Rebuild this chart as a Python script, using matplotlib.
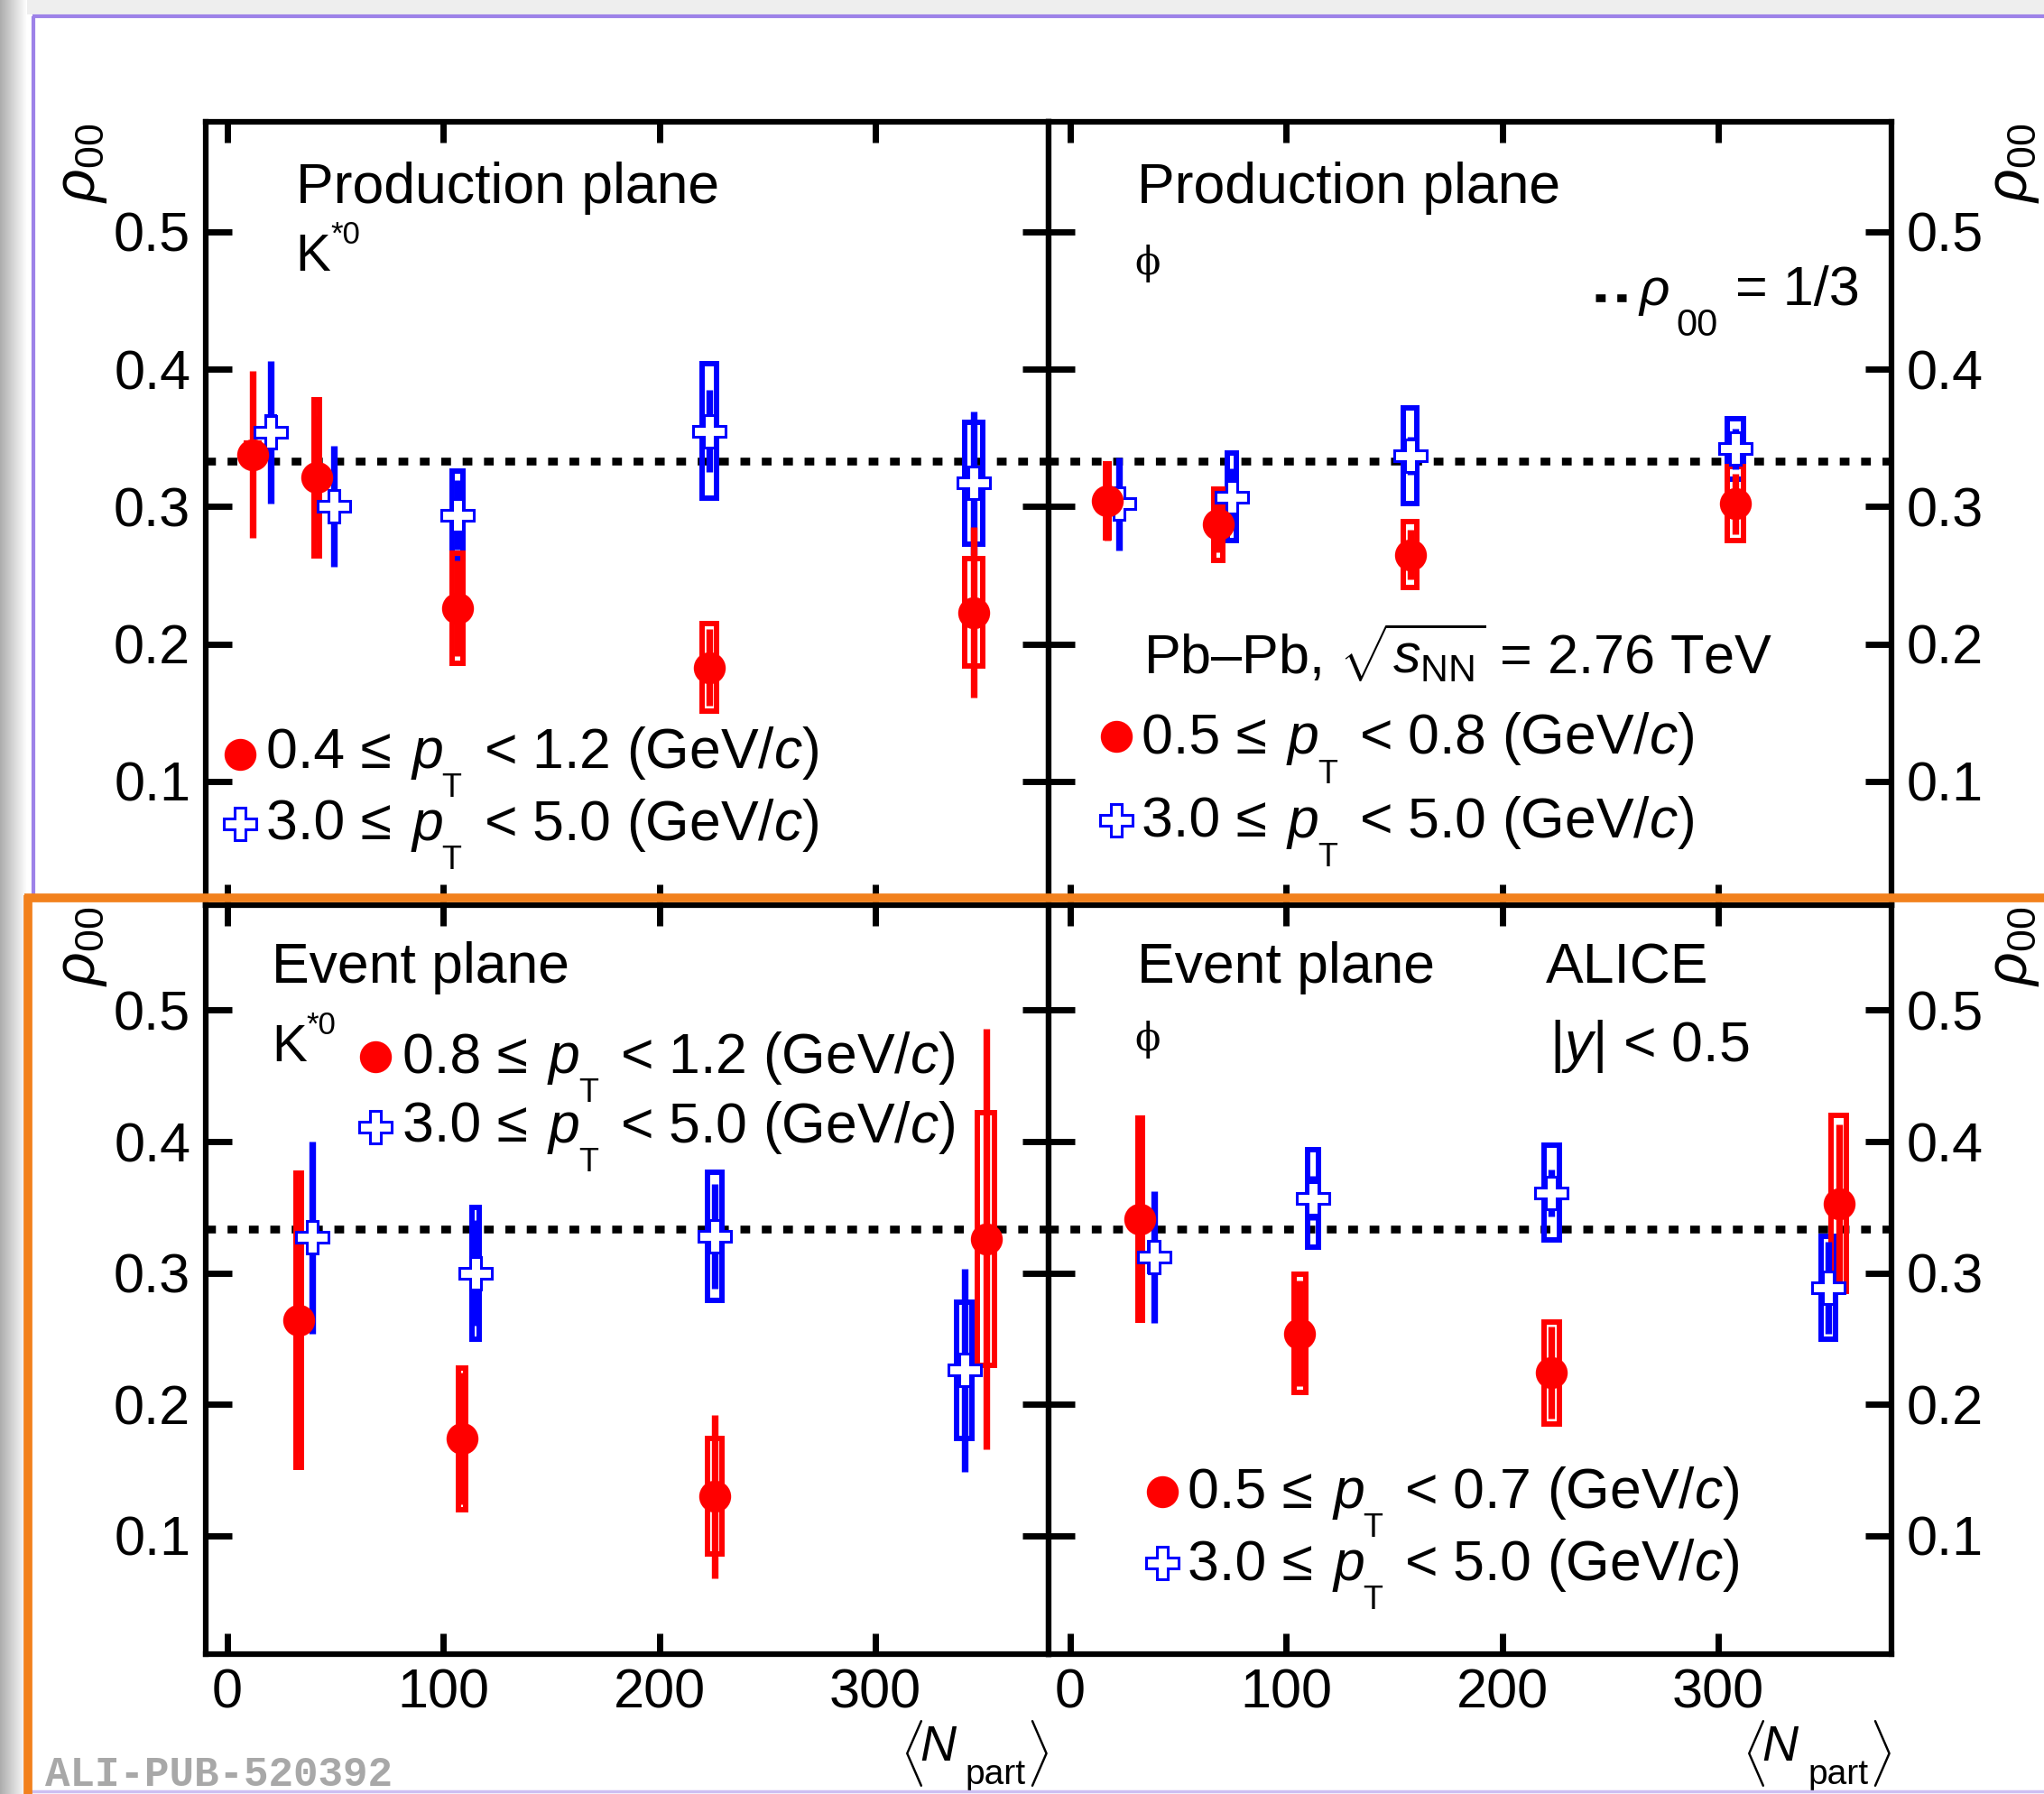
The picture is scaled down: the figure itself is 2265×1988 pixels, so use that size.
import numpy as np
import matplotlib
matplotlib.use("Agg")
import matplotlib.pyplot as plt
from matplotlib.patches import Rectangle
from matplotlib.lines import Line2D

# ---------------- data ----------------
# K*0, production plane
kpp_lo_npart = [11.6, 41.3, 106.5, 223.0, 345.4]
kpp_lo_rho = [0.338, 0.321, 0.226, 0.183, 0.223]
kpp_lo_stat = [0.061, 0.045, 0.035, 0.028, 0.062]
kpp_lo_sys = [0.008, 0.057, 0.040, 0.032, 0.039]
kpp_lo_dn = [3.0, 1.3, 2.6, 3.4, 4.1]

kpp_hi_npart = [20.1, 49.2, 106.5, 223.0, 345.4]
kpp_hi_rho = [0.354, 0.300, 0.294, 0.355, 0.317]
kpp_hi_stat = [0.052, 0.044, 0.025, 0.030, 0.052]
kpp_hi_sys = [0.011, 0.011, 0.032, 0.049, 0.044]
kpp_hi_dn = [1.7, 1.7, 2.6, 3.4, 4.1]

# phi, production plane
phipp_lo_npart = [17.2, 68.7, 157.4, 307.8]
phipp_lo_rho = [0.304, 0.287, 0.265, 0.302]
phipp_lo_stat = [0.029, 0.020, 0.018, 0.022]
phipp_lo_sys = [0.027, 0.026, 0.024, 0.027]
phipp_lo_dn = [0.9, 2.0, 3.1, 3.8]

phipp_hi_npart = [22.9, 74.9, 157.4, 307.8]
phipp_hi_rho = [0.302, 0.307, 0.337, 0.342]
phipp_hi_stat = [0.034, 0.021, 0.014, 0.015]
phipp_hi_sys = [0.010, 0.032, 0.035, 0.022]
phipp_hi_dn = [2.0, 2.0, 3.1, 3.8]

# K*0, event plane
kep_lo_npart = [32.9, 108.6, 225.6, 351.2]
kep_lo_rho = [0.264, 0.174, 0.130, 0.326]
kep_lo_stat = [0.100, 0.050, 0.062, 0.160]
kep_lo_sys = [0.112, 0.054, 0.044, 0.096]
kep_lo_dn = [1.2, 1.8, 3.3, 3.9]

kep_hi_npart = [39.2, 114.8, 225.6, 341.2]
kep_hi_rho = [0.327, 0.300, 0.328, 0.226]
kep_hi_stat = [0.073, 0.040, 0.040, 0.077]
kep_hi_sys = [0.011, 0.050, 0.049, 0.052]
kep_hi_dn = [1.7, 1.6, 3.3, 3.6]

# phi, event plane
phiep_lo_npart = [32.5, 106.4, 222.9, 355.9]
phiep_lo_rho = [0.341, 0.254, 0.224, 0.353]
phiep_lo_stat = [0.070, 0.040, 0.035, 0.060]
phiep_lo_sys = [0.077, 0.045, 0.039, 0.067]
phiep_lo_dn = [1.2, 2.6, 3.5, 3.5]

phiep_hi_npart = [38.8, 112.6, 222.9, 351.0]
phiep_hi_rho = [0.312, 0.357, 0.361, 0.289]
phiep_hi_stat = [0.050, 0.017, 0.018, 0.035]
phiep_hi_sys = [0.011, 0.037, 0.036, 0.039]
phiep_hi_dn = [1.7, 2.5, 3.5, 3.4]

x_ticks = [0, 100, 200, 300]
x_ticklabels = ["0", "100", "200", "300"]
y_ticks = [0.1, 0.2, 0.3, 0.4, 0.5]
y_ticklabels = ["0.1", "0.2", "0.3", "0.4", "0.5"]
rho_unpolarised = 1.0 / 3.0

# ---------------- style ----------------
plt.rcParams["font.family"] = ["Liberation Sans", "DejaVu Sans"]
plt.rcParams["mathtext.fontset"] = "custom"
plt.rcParams["mathtext.rm"] = "Liberation Sans"
plt.rcParams["mathtext.it"] = "Liberation Sans:italic"
plt.rcParams["mathtext.bf"] = "Liberation Sans:bold"
plt.rcParams["mathtext.sf"] = "Liberation Sans"

RED = "#ff0000"
BLUE = "#0000ff"
FS = 44

W, H = 2265, 1988
fig = plt.figure(figsize=(W / 100, H / 100), dpi=100)
fig.patch.set_facecolor("white")

# background decoration (shadow band on the left and top)
bg = fig.add_axes([0, 0, 1, 1], zorder=-10)
bg.set_xlim(0, W)
bg.set_ylim(H, 0)
bg.axis("off")
grad = np.linspace(0.68, 1.0, 40).reshape(1, -1)
bg.imshow(np.dstack([grad] * 3), extent=(0, 30, H, 0), aspect="auto",
          interpolation="bilinear")
bg.add_patch(Rectangle((30, 0), W - 30, 16, color="#eeeeee", lw=0))


def px(x, y):
    return x / W, 1 - y / H


def make_ax(x0, y0, x1, y1):
    return fig.add_axes([x0 / W, 1 - y1 / H, (x1 - x0) / W, (y1 - y0) / H])


XL, XM, XR = 228, 1161.7, 2095.5
YT, YM, YB = 135, 1003, 1833
ax_tl = make_ax(XL, YT, XM, YM)
ax_tr = make_ax(XM, YT, XR, YM)
ax_bl = make_ax(XL, YM, XM, YB)
ax_br = make_ax(XM, YM, XR, YB)

for ax in (ax_tl, ax_tr, ax_bl, ax_br):
    ax.set_xlim(-10, 380)
    ax.set_ylim(0.01, 0.58)
    ax.set_xticks(x_ticks)
    ax.set_xticklabels(x_ticklabels)
    ax.set_yticks(y_ticks)
    ax.set_yticklabels(y_ticklabels)
    for s in ax.spines.values():
        s.set_linewidth(4.5)
    ax.tick_params(axis="x", which="major", direction="in", length=16.5,
                   width=5, top=True, bottom=True, labelsize=FS, pad=11)
    ax.tick_params(axis="y", which="major", direction="in", length=21,
                   width=5, left=True, right=True, labelsize=FS, pad=12)
    ax.axhline(rho_unpolarised, color="black", lw=6.2,
               linestyle=(0, (1.25, 1.5)), dash_capstyle="butt", zorder=2)

for ax in (ax_tl, ax_tr):
    ax.tick_params(labelbottom=False)
for ax in (ax_tr, ax_br):
    ax.tick_params(labelleft=False, labelright=True)


def draw_series(ax, npart, rho, stat, sys, dn, color, kind):
    npart = np.asarray(npart)
    rho = np.asarray(rho)
    stat = np.asarray(stat)
    sys = np.asarray(sys)
    dn = np.asarray(dn)
    for n, r, s, d in zip(npart, rho, sys, dn):
        ax.add_patch(Rectangle((n - d, r - s), 2 * d, 2 * s, fill=False,
                               ec=color, lw=4.3, joinstyle="miter", zorder=3))
    ax.vlines(npart, rho - stat, rho + stat, colors=color, lw=5.3,
              capstyle="butt", zorder=4)
    if kind == "circle":
        ax.plot(npart, rho, ls="none", marker="o", ms=25.5, mfc=color,
                mec=color, mew=0, zorder=5)
    else:
        ax.plot(npart, rho, ls="none", marker="P", ms=26, mfc="white",
                mec=color, mew=2.2, zorder=5)


draw_series(ax_tl, kpp_hi_npart, kpp_hi_rho, kpp_hi_stat, kpp_hi_sys, kpp_hi_dn, BLUE, "cross")
draw_series(ax_tl, kpp_lo_npart, kpp_lo_rho, kpp_lo_stat, kpp_lo_sys, kpp_lo_dn, RED, "circle")
draw_series(ax_tr, phipp_hi_npart, phipp_hi_rho, phipp_hi_stat, phipp_hi_sys, phipp_hi_dn, BLUE, "cross")
draw_series(ax_tr, phipp_lo_npart, phipp_lo_rho, phipp_lo_stat, phipp_lo_sys, phipp_lo_dn, RED, "circle")
draw_series(ax_bl, kep_hi_npart, kep_hi_rho, kep_hi_stat, kep_hi_sys, kep_hi_dn, BLUE, "cross")
draw_series(ax_bl, kep_lo_npart, kep_lo_rho, kep_lo_stat, kep_lo_sys, kep_lo_dn, RED, "circle")
draw_series(ax_br, phiep_hi_npart, phiep_hi_rho, phiep_hi_stat, phiep_hi_sys, phiep_hi_dn, BLUE, "cross")
draw_series(ax_br, phiep_lo_npart, phiep_lo_rho, phiep_lo_stat, phiep_lo_sys, phiep_lo_dn, RED, "circle")


# ---------------- text ----------------
def ftext(x, y, s, **kw):
    kw.setdefault("fontsize", FS)
    kw.setdefault("va", "baseline")
    fig.text(*px(x, y), s, **kw)


def legend_key(x, y, kind, color):
    if kind == "circle":
        ln = Line2D([x / W], [1 - y / H], ls="none", marker="o", ms=25.5,
                    mfc=color, mec=color, mew=0, transform=fig.transFigure)
    else:
        ln = Line2D([x / W], [1 - y / H], ls="none", marker="P", ms=26,
                    mfc="white", mec=color, mew=2.2, transform=fig.transFigure)
    fig.add_artist(ln)


def pt_label(x, y, lo, hi):
    # ROOT-like layout: p with a large, strongly lowered subscript T
    ftext(x, y, lo + " ≤", fontsize=45)
    ftext(x + 160, y, r"$p$", fontsize=45)
    ftext(x + 195, y + 32, "T", fontsize=26)
    ftext(x + 241, y, "< " + hi + r" (GeV/$c$)", fontsize=45)


def kstar_label(x, y):
    ftext(x, y, "K", fontsize=42)
    ftext(x + 39, y - 30, "*0", fontsize=25)


def npart_label(r):
    ftext(r - 165, 1966, r"$\langle$", fontsize=44)
    ftext(r - 143, 1951, r"$N$", fontsize=40)
    ftext(r - 92, 1977, "part", fontsize=28)
    ftext(r, 1966, r"$\rangle$", fontsize=44, ha="right")


# top-left
ftext(327.5, 224.5, "Production plane", fontsize=45)
kstar_label(327.5, 300)
legend_key(266, 836, "circle", RED)
pt_label(294.6, 851, "0.4", "1.2")
legend_key(266, 913, "cross", BLUE)
pt_label(294.6, 931, "3.0", "5.0")

# top-right
ftext(1259.7, 224.5, "Production plane", fontsize=45)
ftext(1257, 292, "ϕ", family="DejaVu Serif", fontsize=30, va="center")
fig.add_artist(Line2D([1768 / W, 1802 / W], [1 - 330 / H] * 2, color="black",
                      lw=6.2, linestyle=(0, (1.25, 1.5)), dash_capstyle="butt",
                      transform=fig.transFigure))
ftext(1815, 338, r"$\rho$", fontsize=42)
ftext(1857, 372, "00", fontsize=30)
ftext(1923, 338, "= 1/3", fontsize=44)
ftext(1267, 746, r"Pb–Pb, $\sqrt{s_{\mathrm{NN}}}$ = 2.76 TeV")
legend_key(1236.5, 816, "circle", RED)
pt_label(1265, 835.5, "0.5", "0.8")
legend_key(1236.5, 909, "cross", BLUE)
pt_label(1265, 928, "3.0", "5.0")

# bottom-left
ftext(300.8, 1089, "Event plane", fontsize=45)
kstar_label(300.8, 1176)
legend_key(415.5, 1171, "circle", RED)
pt_label(446, 1189, "0.8", "1.2")
legend_key(415.5, 1249, "cross", BLUE)
pt_label(446, 1266, "3.0", "5.0")

# bottom-right
ftext(1259.7, 1089, "Event plane", fontsize=45)
ftext(1257, 1152, "ϕ", family="DejaVu Serif", fontsize=30, va="center")
ftext(1713, 1089, "ALICE", fontsize=45)
ftext(1716.6, 1176, r"|$y$| < 0.5", fontsize=45)
legend_key(1288, 1653, "circle", RED)
pt_label(1315.5, 1671, "0.5", "0.7")
legend_key(1288, 1732, "cross", BLUE)
pt_label(1315.5, 1751, "3.0", "5.0")

# axis titles
for xr in (XM, XR):
    npart_label(xr)
for yt in (137, 1005):
    ftext(61, yt, r"$\rho_{00}$", rotation=90, ha="left", va="top", fontsize=46)
    ftext(2262, yt, r"$\rho_{00}$", rotation=90, ha="right", va="top", fontsize=46)

ftext(50, 1979, "ALI-PUB-520392", family="Liberation Mono", weight="bold",
      color="#a8a8a8", fontsize=33)


# frame decorations (annotation outlines)
def fline(xs, ys, **kw):
    fig.add_artist(Line2D([x / W for x in xs], [1 - y / H for y in ys],
                          transform=fig.transFigure, zorder=20, **kw))


fline([36, W], [18, 18], color="#9d82e8", lw=3, solid_capstyle="butt")
fline([37, 37], [18, 992], color="#9d82e8", lw=3, solid_capstyle="butt")
fline([29, W], [1985, 1985], color="#cdbff2", lw=2.5, solid_capstyle="butt")
fline([27, W], [995, 995], color="#f2811d", lw=7, solid_capstyle="butt")
fline([31, 31], [992, H], color="#f2811d", lw=7, solid_capstyle="butt")

fig.savefig("out.png", dpi=100)
